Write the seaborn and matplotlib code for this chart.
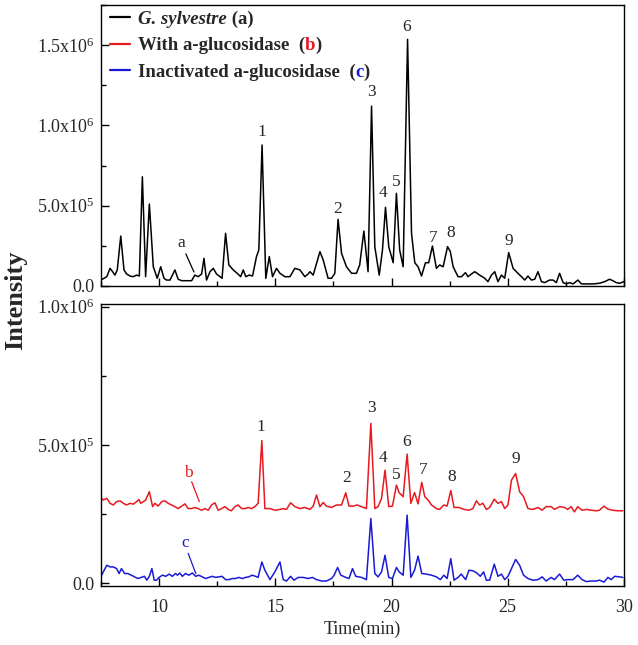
import numpy as np
import pandas as pd
import matplotlib
matplotlib.use("Agg")
import matplotlib.pyplot as plt
import seaborn as sns
from matplotlib.ticker import MultipleLocator, FixedLocator, FuncFormatter

# ---------------- data ----------------
time_a = [7.5, 7.75, 7.89, 8.0, 8.1, 8.2, 8.35, 8.49, 8.6, 8.75, 8.89, 9.03, 9.15, 9.28, 9.42, 9.58,
          9.75, 9.92, 10.07, 10.21, 10.32, 10.47, 10.68, 10.82, 10.97, 11.18, 11.4, 11.54, 11.68, 11.83,
          11.93, 12.04, 12.19, 12.33, 12.47, 12.62, 12.71, 12.86, 13.0, 13.19, 13.36, 13.51, 13.62, 13.73,
          13.88, 14.02, 14.19, 14.29, 14.43, 14.59, 14.74, 14.88, 15.05, 15.2, 15.41, 15.63, 15.84, 16.06,
          16.27, 16.41, 16.49, 16.63, 16.92, 17.06, 17.27, 17.42, 17.56, 17.7, 17.85, 18.06, 18.28, 18.49,
          18.63, 18.81, 18.99, 19.14, 19.28, 19.47, 19.61, 19.74, 19.88, 20.07, 20.21, 20.35, 20.5, 20.69,
          20.86, 21.0, 21.14, 21.29, 21.46, 21.6, 21.76, 21.93, 22.07, 22.22, 22.41, 22.53, 22.65, 22.86,
          23.01, 23.18, 23.29, 23.44, 23.58, 23.79, 24.01, 24.15, 24.3, 24.44, 24.58, 24.73, 24.87, 25.04,
          25.23, 25.44, 25.59, 25.73, 25.87, 26.02, 26.16, 26.3, 26.45, 26.59, 26.8, 26.95, 27.09, 27.23,
          27.38, 27.52, 27.66, 27.81, 28.02, 28.17, 28.38, 28.67, 28.95, 29.17, 29.38, 29.52, 29.67, 29.81, 30.0]
int_a = [3.7e4, 5.8e4, 1.1e5, 8.9e4, 6.8e4, 1.0e5, 3.11e5, 1.0e5, 7.5e4, 6.2e4, 5.8e4, 6.8e4, 6.2e4, 6.8e5, 5.8e4, 5.1e5,
         1.2e5, 4.8e4, 1.2e5, 4.8e4, 3.7e4, 3.7e4, 1.0e5, 4.2e4, 3.3e4, 3.3e4, 3.3e4, 6.8e4, 5.8e4, 7.5e4,
         1.72e5, 3.7e4, 8.9e4, 1.1e5, 7.5e4, 5.8e4, 4.8e4, 3.28e5, 1.31e5, 1.0e5, 7.9e4, 5.8e4, 1.0e5, 5.8e4,
         6.8e4, 6.2e4, 1.83e5, 2.24e5, 8.78e5, 4.8e4, 1.83e5, 5.8e4, 1.1e5, 7.9e4, 5.8e4, 5.8e4, 1.1e5, 1.0e5,
         5.8e4, 7.5e4, 8.9e4, 6.8e4, 2.14e5, 1.62e5, 4.8e4, 4.8e4, 7.9e4, 4.15e5, 2.03e5, 1.2e5, 7.9e4, 7.9e4,
         1.31e5, 3.42e5, 8.9e4, 1.12e6, 2.45e5, 6.8e4, 2.24e5, 4.9e5, 2.45e5, 1.45e5, 5.77e5, 2.24e5, 1.2e5, 1.536e6,
         3.28e5, 1.45e5, 1.2e5, 6.2e4, 1.45e5, 1.45e5, 2.49e5, 1.1e5, 1.31e5, 1.2e5, 2.45e5, 2.14e5, 1.2e5, 5.8e4,
         5.8e4, 8.3e4, 5.8e4, 7.5e4, 8.9e4, 6.8e4, 4.8e4, 2.7e4, 6.8e4, 8.9e4, 2.7e4, 6.8e4, 4.8e4, 2.08e5,
         1.1e5, 7.9e4, 5.8e4, 3.7e4, 6.2e4, 3.7e4, 4.2e4, 8.9e4, 2.7e4, 2.1e4, 3.7e4, 3.7e4, 2.1e4, 7.9e4,
         2.1e4, 1.3e4, 2.1e4, 1.3e4, 3.7e4, 1.3e4, 1.3e4, 1.3e4, 1.7e4, 2.7e4, 4.2e4, 3.3e4, 2.1e4, 1.7e4, 2.7e4]

time_b = [7.5, 7.6, 7.75, 7.89, 8.03, 8.17, 8.32, 8.46, 8.6, 8.75, 8.89, 9.03, 9.13, 9.21, 9.32, 9.42, 9.58,
          9.72, 9.82, 9.96, 10.11, 10.25, 10.39, 10.54, 10.68, 10.82, 10.97, 11.11, 11.25, 11.4, 11.54, 11.68,
          11.83, 11.97, 12.11, 12.26, 12.4, 12.54, 12.69, 12.83, 12.97, 13.11, 13.26, 13.4, 13.55, 13.69, 13.83,
          13.98, 14.12, 14.26, 14.42, 14.55, 14.77, 14.98, 15.2, 15.34, 15.48, 15.66, 15.84, 16.06, 16.27, 16.49,
          16.63, 16.77, 16.92, 17.06, 17.2, 17.42, 17.63, 17.85, 18.03, 18.17, 18.35, 18.52, 18.71, 18.92, 19.11,
          19.28, 19.42, 19.57, 19.72, 19.88, 20.04, 20.21, 20.33, 20.5, 20.67, 20.83, 20.99, 21.14, 21.3, 21.43,
          21.57, 21.72, 21.93, 22.07, 22.25, 22.39, 22.55, 22.69, 22.9, 23.12, 23.33, 23.5, 23.65, 23.79, 23.93,
          24.08, 24.22, 24.42, 24.58, 24.73, 24.87, 25.01, 25.16, 25.34, 25.51, 25.68, 25.87, 26.08, 26.3, 26.48,
          26.65, 26.87, 27.01, 27.23, 27.44, 27.58, 27.73, 27.87, 28.01, 28.2, 28.38, 28.59, 28.81, 28.95, 29.14,
          29.31, 29.52, 29.74, 29.95]
int_b = [3.10e5, 3.01e5, 3.07e5, 2.89e5, 2.83e5, 2.95e5, 2.98e5, 2.89e5, 2.83e5, 2.89e5, 2.86e5, 2.95e5, 3.03e5, 2.89e5, 2.95e5, 3.01e5, 3.31e5,
         2.77e5, 2.89e5, 2.79e5, 2.95e5, 2.98e5, 2.89e5, 2.83e5, 2.77e5, 2.70e5, 2.79e5, 2.87e5, 2.70e5, 2.70e5, 2.74e5, 2.70e5,
         2.64e5, 2.70e5, 2.64e5, 2.83e5, 2.91e5, 2.64e5, 2.70e5, 2.77e5, 2.67e5, 2.62e5, 2.77e5, 2.83e5, 2.70e5, 2.70e5, 2.74e5,
         2.70e5, 2.77e5, 2.89e5, 5.16e5, 2.70e5, 2.70e5, 2.64e5, 2.67e5, 2.70e5, 2.67e5, 2.91e5, 2.77e5, 2.70e5, 2.74e5, 2.67e5,
         2.79e5, 3.19e5, 2.77e5, 2.92e5, 2.79e5, 2.74e5, 2.83e5, 2.83e5, 3.27e5, 2.79e5, 2.79e5, 2.83e5, 2.77e5, 2.70e5, 5.78e5,
         2.70e5, 2.77e5, 3.07e5, 4.09e5, 2.77e5, 2.79e5, 3.55e5, 3.27e5, 3.13e5, 4.67e5, 2.89e5, 3.28e5, 2.87e5, 3.65e5, 3.13e5,
         3.01e5, 2.83e5, 2.70e5, 2.67e5, 2.83e5, 2.79e5, 3.35e5, 2.74e5, 2.74e5, 2.67e5, 2.64e5, 2.70e5, 2.98e5, 2.83e5, 2.89e5,
         2.67e5, 2.74e5, 3.04e5, 2.89e5, 2.95e5, 2.70e5, 2.83e5, 3.73e5, 3.97e5, 3.31e5, 3.13e5, 2.70e5, 2.67e5, 2.74e5, 2.64e5,
         2.77e5, 2.77e5, 2.67e5, 2.77e5, 2.74e5, 2.67e5, 2.77e5, 2.58e5, 2.77e5, 2.64e5, 2.67e5, 2.64e5, 2.62e5, 2.64e5, 2.79e5,
         2.68e5, 2.64e5, 2.62e5, 2.62e5]

time_c = [7.5, 7.6, 7.75, 7.89, 8.03, 8.17, 8.28, 8.38, 8.52, 8.66, 8.8, 8.95, 9.09, 9.23, 9.37, 9.47, 9.58,
          9.69, 9.79, 9.89, 10.0, 10.14, 10.29, 10.43, 10.57, 10.71, 10.79, 10.89, 11.0, 11.14, 11.28, 11.43,
          11.57, 11.71, 11.86, 12.0, 12.14, 12.29, 12.43, 12.57, 12.71, 12.86, 13.0, 13.15, 13.29, 13.43, 13.58,
          13.72, 13.86, 14.0, 14.15, 14.26, 14.42, 14.55, 14.77, 14.98, 15.2, 15.34, 15.48, 15.66, 15.8, 15.99,
          16.2, 16.41, 16.6, 16.77, 16.99, 17.2, 17.42, 17.53, 17.68, 17.82, 18.03, 18.17, 18.32, 18.46, 18.71,
          18.92, 19.11, 19.28, 19.42, 19.57, 19.72, 19.88, 20.04, 20.21, 20.33, 20.5, 20.67, 20.83, 20.99, 21.14,
          21.3, 21.5, 21.72, 21.93, 22.1, 22.25, 22.39, 22.55, 22.69, 22.86, 23.0, 23.19, 23.33, 23.5, 23.67,
          23.82, 23.96, 24.08, 24.22, 24.42, 24.58, 24.73, 24.87, 25.01, 25.16, 25.34, 25.51, 25.68, 25.87, 26.08,
          26.3, 26.48, 26.65, 26.87, 27.01, 27.23, 27.41, 27.58, 27.81, 28.01, 28.2, 28.38, 28.59, 28.81, 28.95,
          29.14, 29.31, 29.45, 29.6, 29.81, 29.95]
int_c = [2.5e4, 4.1e4, 6.5e4, 5.9e4, 5.9e4, 5.3e4, 3.5e4, 5.3e4, 3.5e4, 3.5e4, 2.9e4, 2.3e4, 1.7e4, 2.1e4, 2.5e4, 1.1e4, 2.5e4,
         5.3e4, 1.1e4, 1.1e4, 2.1e4, 2.9e4, 2.5e4, 3.3e4, 2.5e4, 3.5e4, 2.9e4, 3.7e4, 2.5e4, 3.5e4, 2.9e4, 3.7e4,
         2.5e4, 2.9e4, 2.3e4, 1.7e4, 2.1e4, 2.5e4, 2.1e4, 2.3e4, 2.5e4, 1.3e4, 1.3e4, 1.7e4, 1.7e4, 2.1e4, 1.7e4,
         2.1e4, 2.3e4, 2.9e4, 2.5e4, 2.1e4, 7.7e4, 4.7e4, 1.3e4, 4.1e4, 7.7e4, 1.3e4, 8.0e3, 2.5e4, 1.1e4, 2.1e4,
         2.1e4, 1.7e4, 2.1e4, 1.3e4, 8.0e3, 8.0e3, 1.7e4, 2.9e4, 5.7e4, 2.9e4, 2.1e4, 1.7e4, 5.3e4, 2.5e4, 2.1e4,
         1.3e4, 2.34e5, 3.5e4, 2.3e4, 4.1e4, 1.01e5, 2.1e4, 1.7e4, 5.7e4, 4.1e4, 2.9e4, 2.46e5, 2.1e4, 4.7e4, 9.8e4,
         3.5e4, 3.3e4, 2.9e4, 2.3e4, 1.3e4, 2.9e4, 1.7e4, 8.9e4, 1.1e4, 2.1e4, 3.3e4, 1.3e4, 4.7e4, 4.5e4, 3.7e4,
         2.5e4, 4.1e4, 1.1e4, 1.1e4, 6.9e4, 2.5e4, 3.3e4, 1.3e4, 2.5e4, 5.3e4, 8.6e4, 6.5e4, 2.9e4, 1.7e4, 1.1e4,
         1.3e4, 2.3e4, 8.0e3, 2.1e4, 1.3e4, 3.3e4, 1.1e4, 1.3e4, 1.3e4, 2.9e4, 1.3e4, 6.0e3, 8.0e3, 8.0e3, 1.1e4,
         4.0e3, 2.1e4, 1.3e4, 2.5e4, 2.3e4, 2.1e4]

peak_ids = ["1", "2", "3", "4", "5", "6", "7", "8", "9"]
peak_t_top = [14.42, 17.69, 19.14, 19.62, 20.21, 20.64, 21.79, 22.55, 25.05]
peak_lbl_top = [9.6e5, 4.8e5, 1.21e6, 5.8e5, 6.5e5, 1.615e6, 3.0e5, 3.3e5, 2.8e5]
peak_t_bot = [14.37, 18.06, 19.14, 19.64, 20.21, 20.64, 21.36, 22.6, 25.34]
peak_lbl_bot = [5.66e5, 3.79e5, 6.33e5, 4.52e5, 3.91e5, 5.12e5, 4.09e5, 3.83e5, 4.48e5]

series_labels = ["G. sylvestre", "With a-glucosidase  (", "Inactivated a-glucosidase  ("]
series_colors = ["black", "#e8191f", "#1a1ad6"]
xticks = [10, 15, 20, 25, 30]

# ---------------- style ----------------
sns.set_style("ticks")
plt.rcParams["font.family"] = ["Liberation Serif", "DejaVu Serif"]
plt.rcParams["mathtext.fontset"] = "custom"
plt.rcParams["mathtext.rm"] = "Liberation Serif"
plt.rcParams["mathtext.it"] = "Liberation Serif:italic"
plt.rcParams["mathtext.bf"] = "Liberation Serif:bold"

fig = plt.figure(figsize=(6.38, 6.45), dpi=100)
ax1 = fig.add_axes([0.1583, 0.5566, 0.8197, 0.4357])
ax2 = fig.add_axes([0.1583, 0.0915, 0.8197, 0.4372])

df_a = pd.DataFrame({"t": time_a, "I": int_a})
df_b = pd.DataFrame({"t": time_b, "I": int_b})
df_c = pd.DataFrame({"t": time_c, "I": int_c})

sns.lineplot(data=df_a, x="t", y="I", ax=ax1, color=series_colors[0], lw=1.1,
             sort=False, estimator=None, label=series_labels[0])
sns.lineplot(data=df_b, x="t", y="I", ax=ax2, color=series_colors[1], lw=1.1,
             sort=False, estimator=None, label=series_labels[1])
sns.lineplot(data=df_c, x="t", y="I", ax=ax2, color=series_colors[2], lw=1.1,
             sort=False, estimator=None, label=series_labels[2])


def sci_fmt(v, pos):
    if abs(v) < 1:
        return "0.0"
    e = int(np.floor(np.log10(abs(v))))
    m = v / 10 ** e
    return r"$%.1f\mathrm{x}10^{%d}$" % (m, e)


for ax in (ax1, ax2):
    ax.set_xlim(7.5, 30)
    ax.xaxis.set_major_locator(FixedLocator(xticks))
    ax.xaxis.set_minor_locator(MultipleLocator(2.5))
    ax.tick_params(which="both", direction="in", labelsize=13, width=1.0, color="black",
                   top=False, right=False)
    ax.tick_params(which="major", length=6)
    ax.tick_params(which="minor", length=3.5)
    ax.tick_params(axis="x", which="major", pad=9.5)
    ax.tick_params(axis="y", which="major", pad=5)
    ax.yaxis.set_major_formatter(FuncFormatter(sci_fmt))
    ax.set_xlabel("")
    ax.set_ylabel("")
    for s in ax.spines.values():
        s.set_visible(True)
        s.set_linewidth(1.0)
        s.set_color("black")

ax1.set_ylim(0, 1.75e6)
ax1.yaxis.set_major_locator(FixedLocator([0, 5e5, 1.0e6, 1.5e6]))
ax1.yaxis.set_minor_locator(MultipleLocator(2.5e5))
ax1.tick_params(axis="x", labelbottom=False)

ax2.set_ylim(-1.0e4, 1.01e6)
ax2.yaxis.set_major_locator(FixedLocator([0, 5e5, 1.0e6]))
ax2.yaxis.set_minor_locator(MultipleLocator(2.5e5))
ax2.set_xlabel("Time(min)", fontsize=13, labelpad=3)

fig.text(0.024, 0.535, "Intensity", rotation=90, fontsize=19, fontweight="bold",
         ha="center", va="center")

# peak labels
for lab, t, y in zip(peak_ids, peak_t_top, peak_lbl_top):
    ax1.text(t, y, lab, fontsize=12.5, ha="center", va="center")
for lab, t, y in zip(peak_ids, peak_t_bot, peak_lbl_bot):
    ax2.text(t, y, lab, fontsize=12.5, ha="center", va="center")

# series markers a, b, c with leader lines
ax1.text(10.97, 2.7e5, "a", fontsize=12.5, ha="center", va="center")
ax1.plot([11.15, 11.5], [2.0e5, 8.7e4], color="black", lw=0.9)
ax2.text(11.25, 4.0e5, "b", fontsize=12.5, ha="center", va="center", color=series_colors[1])
ax2.plot([11.4, 11.73], [3.67e5, 2.95e5], color=series_colors[1], lw=0.9)
ax2.text(11.11, 1.44e5, "c", fontsize=12.5, ha="center", va="center", color=series_colors[2])
ax2.plot([11.25, 11.58], [1.08e5, 3.5e4], color=series_colors[2], lw=0.9)

# legend
if ax2.get_legend():
    ax2.get_legend().remove()
h1, l1 = ax1.get_legend_handles_labels()
h2, l2 = ax2.get_legend_handles_labels()
h1, l1 = h1[:1], l1[:1]
h2, l2 = h2[:2], l2[:2]
leg = ax1.legend(h1 + h2, l1 + l2, loc="upper left", bbox_to_anchor=(0.017, 0.979),
                 frameon=False, borderaxespad=0, borderpad=0, handlelength=1.05,
                 handletextpad=0.45, labelspacing=0.49,
                 prop={"family": "Liberation Serif", "weight": "bold", "size": 13.5})
for ln in leg.get_lines():
    ln.set_linewidth(1.6)
texts = leg.get_texts()
texts[0].set_fontstyle("italic")
fig.canvas.draw()

leg_fs = 13.5
ax1.annotate(" (a)", xy=(1, 0), xycoords=texts[0], ha="left", va="bottom",
             fontsize=leg_fs, fontweight="bold", zorder=10)
t_b = ax1.annotate("b", xy=(1, 0), xycoords=texts[1], ha="left", va="bottom",
                   fontsize=leg_fs, fontweight="bold", color=series_colors[1], zorder=10)
ax1.annotate(")", xy=(1, 0), xycoords=t_b, ha="left", va="bottom",
             fontsize=leg_fs, fontweight="bold", zorder=10)
t_c = ax1.annotate("c", xy=(1, 0), xycoords=texts[2], ha="left", va="bottom",
                   fontsize=leg_fs, fontweight="bold", color=series_colors[2], zorder=10)
ax1.annotate(")", xy=(1, 0), xycoords=t_c, ha="left", va="bottom",
             fontsize=leg_fs, fontweight="bold", zorder=10)

fig.savefig("out.png", dpi=100)
